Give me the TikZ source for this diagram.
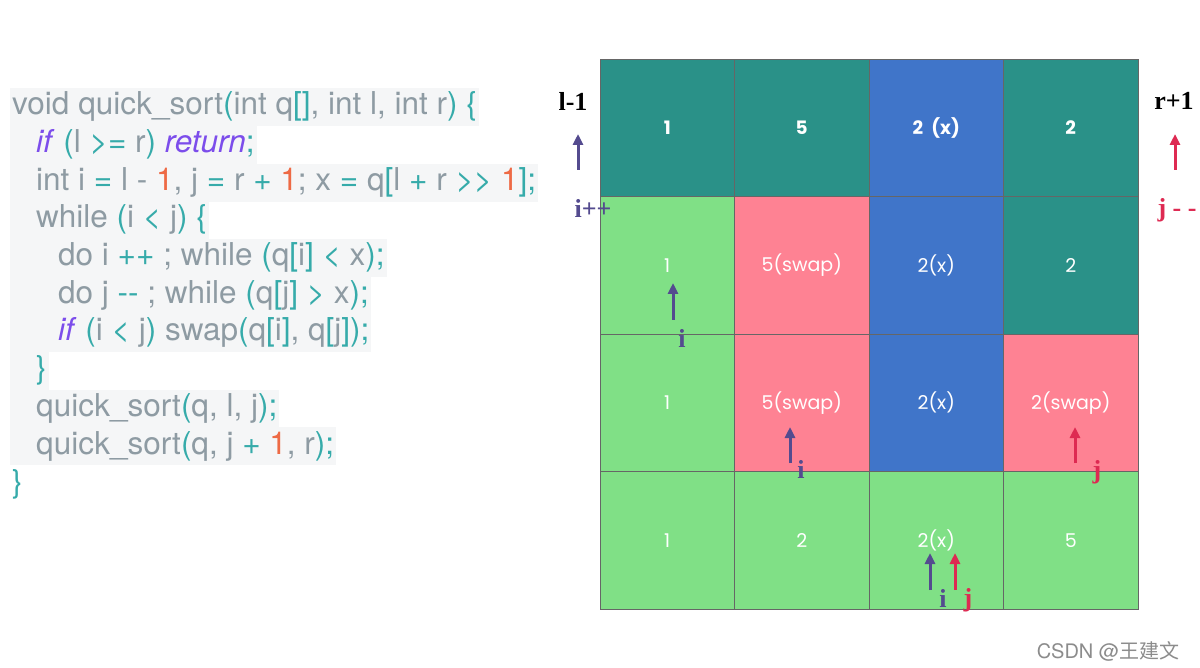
\documentclass[tikz,border=0pt]{standalone}
\usepackage{fontspec}
\setmainfont{TeX Gyre Heros}
\newfontfamily\codefont{TeX Gyre Heros}
\newfontfamily\cellfont{Poppins}
\newfontfamily\labfont{Liberation Serif}
\newfontfamily\cjkfont{Noto Sans CJK SC}
\usetikzlibrary{arrows.meta}
\definecolor{codegray}{HTML}{8E9BA3}
\definecolor{codeteal}{HTML}{36ABAA}
\definecolor{codepurple}{HTML}{7C4DEB}
\definecolor{codeorange}{HTML}{EE6A45}
\definecolor{codebg}{HTML}{F5F6F7}
\definecolor{cteal}{HTML}{2A9188}
\definecolor{cblue}{HTML}{4075C9}
\definecolor{cgreen}{HTML}{80E086}
\definecolor{cpink}{HTML}{FE8293}
\definecolor{ipurple}{HTML}{544B8F}
\definecolor{jred}{HTML}{DE2A52}
\newcommand\qT[1]{\textcolor{codeteal}{#1}}
\newcommand\qP[1]{\textcolor{codepurple}{\textit{#1}}}
\newcommand\qO[1]{\textcolor{codeorange}{#1}}
\begin{document}
\begin{tikzpicture}[x=1pt,y=-1pt,
  codeline/.style={anchor=base west, fill=codebg, text=codegray, inner xsep=2pt, inner ysep=4pt,
     font=\codefont\fontsize{31.5}{30}\selectfont, text height=23pt, text depth=7pt},
  cell/.style={draw=black!60, line width=0.6pt, minimum width=134.5pt, minimum height=137.5pt,
     inner sep=0pt, text=white, font=\cellfont\fontsize{19}{19}\selectfont},
  headcell/.style={cell, font=\cellfont\bfseries\fontsize{18.5}{18}\selectfont},
  lab/.style={font=\labfont\bfseries\fontsize{26}{26}\selectfont, inner sep=1pt},
  parrow/.style={draw=ipurple, line width=3pt, -{Triangle[length=11pt,width=10pt]}},
  rarrow/.style={draw=jred, line width=3pt, -{Triangle[length=11pt,width=10pt]}}]
\useasboundingbox (0,0) rectangle (1200,668);
\fill[white] (0,0) rectangle (1200,668);
% ---- code ----
\node[codeline] (l1) at (10,115) {void quick\_sort\qT{(}int q\qT{[]}, int l, int r\qT{)} \qT{\{}};
\node[codeline] (l2) at (10,153) {\hspace{24pt}\qP{if} \qT{(}l \qT{>=} r\qT{)} \qP{return}\qT{;}};
\node[codeline] (l3) at (10,191) {\hspace{24pt}int i \qT{=} l - \qO{1}, j \qT{=} r \qT{+} \qO{1}; x \qT{=} q\qT{[}l \qT{+} r \qT{>>} \qO{1}\qT{];}};
\node[codeline] (l4) at (10,228) {\hspace{24pt}while \qT{(}i \qT{<} j\qT{)} \qT{\{}};
\node[codeline] (l5) at (10,266) {\hspace{46pt}do i \qT{++} ; while \qT{(}q\qT{[}i\qT{]} \qT{<} x\qT{);}};
\node[codeline] (l6) at (10,304) {\hspace{46pt}do j \qT{--} ; while \qT{(}q\qT{[}j\qT{]} \qT{>} x\qT{);}};
\node[codeline] (l7) at (10,341) {\hspace{46pt}\qP{if} \qT{(}i \qT{<} j\qT{)} swap\qT{(}q\qT{[}i\qT{]}, q\qT{[}j\qT{]);}};
\node[codeline] (l8) at (10,379) {\hspace{24pt}\qT{\}}};
\node[codeline] (l9) at (10,417) {\hspace{24pt}quick\_sort\qT{(}q, l, j\qT{);}};
\node[codeline] (l10) at (10,454) {\hspace{24pt}quick\_sort\qT{(}q, j \qT{+} \qO{1}, r\qT{);}};
\node[codeline, fill=none] (l11) at (10,492) {\qT{\}}};
% ---- grid ----
\node[headcell, fill=cteal] (c11) at (667.25,127.75) {1};
\node[headcell, fill=cteal] (c12) at (801.75,127.75) {5};
\node[headcell, fill=cblue] (c13) at (936.25,127.75) {2\hspace{0.45em}(x)};
\node[headcell, fill=cteal] (c14) at (1070.75,127.75) {2};
\node[cell, fill=cgreen] (c21) at (667.25,265.25) {1};
\node[cell, fill=cpink] (c22) at (801.75,265.25) {5(swap)};
\node[cell, fill=cblue] (c23) at (936.25,265.25) {2(x)};
\node[cell, fill=cteal] (c24) at (1070.75,265.25) {2};
\node[cell, fill=cgreen] (c31) at (667.25,402.75) {1};
\node[cell, fill=cpink] (c32) at (801.75,402.75) {5(swap)};
\node[cell, fill=cblue] (c33) at (936.25,402.75) {2(x)};
\node[cell, fill=cpink] (c34) at (1070.75,402.75) {2(swap)};
\node[cell, fill=cgreen] (c41) at (667.25,540.25) {1};
\node[cell, fill=cgreen] (c42) at (801.75,540.25) {2};
\node[cell, fill=cgreen] (c43) at (936.25,540.25) {2(x)};
\node[cell, fill=cgreen] (c44) at (1070.75,540.25) {5};
% ---- labels and pointers ----
\node[lab, text=black] (lm1) at (573,101) {l-1};
\node[lab, text=black] (rp1) at (1174,101) {r+1};
\node[lab, text=ipurple] (ipp) at (593,208) {i++};
\node[lab, text=jred] (jmm) at (1177,210) {j - -};
\coordinate (a1s) at (578,170); \coordinate (a1e) at (578,134);
\draw[parrow] (a1s) -- (a1e);
\coordinate (b1s) at (1175,170); \coordinate (b1e) at (1175,134);
\draw[rarrow] (b1s) -- (b1e);
\coordinate (a2s) at (673,320); \coordinate (a2e) at (673,283);
\draw[parrow] (a2s) -- (a2e);
\node[lab, text=ipurple] (i2) at (682,338) {i};
\coordinate (a3s) at (790,463); \coordinate (a3e) at (790,427);
\draw[parrow] (a3s) -- (a3e);
\node[lab, text=ipurple] (i3) at (801,469) {i};
\coordinate (b3s) at (1075,463); \coordinate (b3e) at (1075,427);
\draw[rarrow] (b3s) -- (b3e);
\node[lab, text=jred] (j3) at (1097,472) {j};
\coordinate (a4s) at (930,590); \coordinate (a4e) at (930,553);
\draw[parrow] (a4s) -- (a4e);
\node[lab, text=ipurple] (i4) at (943,598) {i};
\coordinate (b4s) at (955,590); \coordinate (b4e) at (955,553);
\draw[rarrow] (b4s) -- (b4e);
\node[lab, text=jred] (j4) at (968,600) {j};
% ---- watermark ----
\node[text=black!45, font=\fontsize{20}{20}\selectfont, inner sep=0pt] (wm) at (1108,651) {CSDN @{\cjkfont 王建文}};
\end{tikzpicture}
\end{document}
